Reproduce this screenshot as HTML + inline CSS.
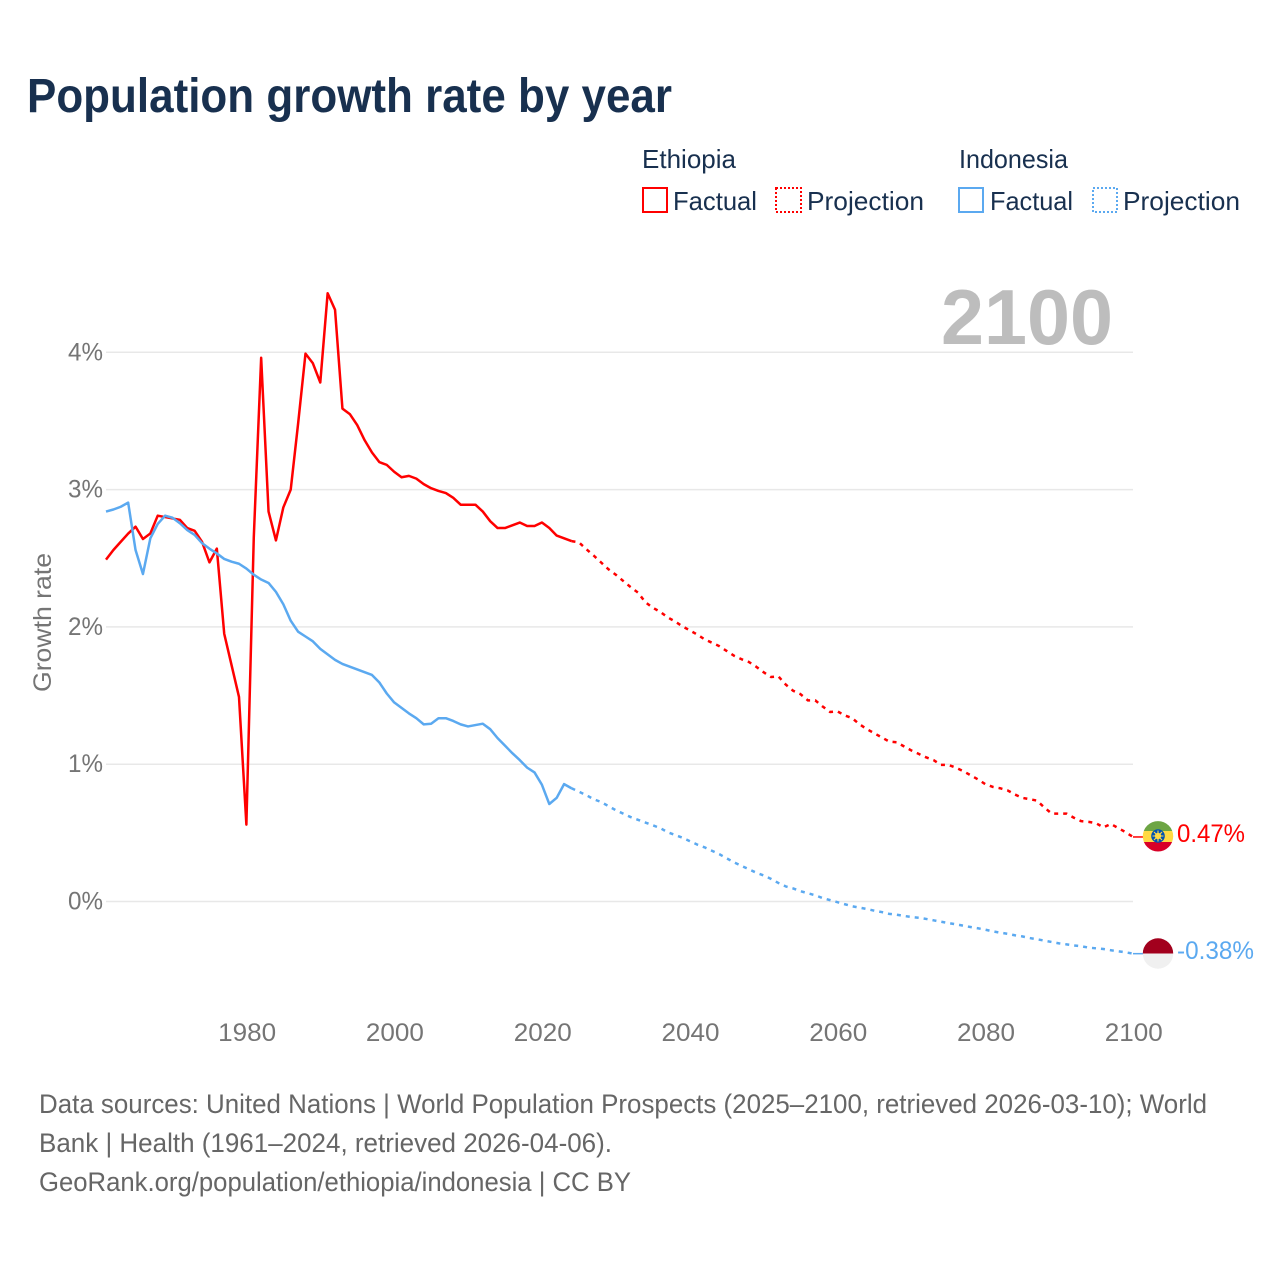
<!DOCTYPE html>
<html lang="en">
<head>
<meta charset="utf-8">
<title>Population growth rate by year</title>
<style>
html,body{margin:0;padding:0;background:#fff;}
svg{display:block;font-family:"Liberation Sans",sans-serif;}
</style>
</head>
<body>
<svg id="chart" xmlns="http://www.w3.org/2000/svg" width="1280" height="1280" viewBox="0 0 1280 1280">
  <rect width="1280" height="1280" fill="#fff"/>
  <text x="27" y="112" font-size="48" font-weight="700" fill="#18304f" textLength="645" lengthAdjust="spacingAndGlyphs">Population growth rate by year</text>

  <g font-size="26" fill="#18304f">
    <text x="642" y="168" textLength="94" lengthAdjust="spacingAndGlyphs">Ethiopia</text>
    <rect x="643" y="188" width="24" height="24" fill="none" stroke="#ff0000" stroke-width="2"/>
    <text x="673" y="210" textLength="84" lengthAdjust="spacingAndGlyphs">Factual</text>
    <rect x="776" y="188" width="25" height="24" fill="none" stroke="#ff0000" stroke-width="2" stroke-dasharray="2 2"/>
    <text x="807" y="210" textLength="117" lengthAdjust="spacingAndGlyphs">Projection</text>
    <text x="959" y="168" textLength="109" lengthAdjust="spacingAndGlyphs">Indonesia</text>
    <rect x="959" y="188" width="24" height="24" fill="none" stroke="#5ba9f0" stroke-width="2"/>
    <text x="990" y="210" textLength="83" lengthAdjust="spacingAndGlyphs">Factual</text>
    <rect x="1093" y="188" width="24" height="24" fill="none" stroke="#5ba9f0" stroke-width="2" stroke-dasharray="2 2"/>
    <text x="1123" y="210" textLength="117" lengthAdjust="spacingAndGlyphs">Projection</text>
  </g>

  <g id="grid"></g>
  <g id="yticks" font-size="25" fill="#757575"></g>
  <g id="xticks" font-size="25" fill="#757575"></g>
  <text transform="translate(51,692) rotate(-90)" font-size="25" fill="#757575" textLength="139" lengthAdjust="spacingAndGlyphs">Growth rate</text>
  <text x="941" y="344" font-size="78" font-weight="700" fill="#bdbdbd" textLength="172" lengthAdjust="spacingAndGlyphs">2100</text>

  <g id="series"></g>

  <g id="flag-ethiopia">
    <clipPath id="clip-eth"><circle cx="1158" cy="836.3" r="15.2"/></clipPath>
    <g clip-path="url(#clip-eth)">
      <rect x="1142" y="820" width="32" height="11" fill="#6da544"/>
      <rect x="1142" y="831" width="32" height="11" fill="#ffda44"/>
      <rect x="1142" y="842" width="32" height="11" fill="#d80027"/>
    </g>
    <circle cx="1158" cy="836" r="6.8" fill="#0052b4"/>
    <circle cx="1158" cy="836" r="3.2" fill="#ffda44"/>
    <path d="M1158 830.5V841.5M1152.5 836H1163.5M1154 832L1162 840M1162 832L1154 840" stroke="#ffda44" stroke-width="1.1"/>
  </g>
  <g id="flag-indonesia">
    <clipPath id="clip-idn"><circle cx="1158" cy="953.5" r="15.2"/></clipPath>
    <g clip-path="url(#clip-idn)">
      <rect x="1142" y="938" width="32" height="15.5" fill="#a2001d"/>
      <rect x="1142" y="953.5" width="32" height="16" fill="#f0f0f0"/>
    </g>
  </g>
  <text id="label-ethiopia" x="1177" y="842" font-size="25" fill="#ff0000" textLength="68" lengthAdjust="spacingAndGlyphs"></text>
  <text id="label-indonesia" x="1177" y="959" font-size="25" fill="#5ba9f0" textLength="77" lengthAdjust="spacingAndGlyphs"></text>

  <g font-size="27" fill="#666">
    <text x="39" y="1113" textLength="1168" lengthAdjust="spacingAndGlyphs">Data sources: United Nations | World Population Prospects (2025–2100, retrieved 2026-03-10); World</text>
    <text x="39" y="1152" textLength="573" lengthAdjust="spacingAndGlyphs">Bank | Health (1961–2024, retrieved 2026-04-06).</text>
    <text x="39" y="1191" textLength="592" lengthAdjust="spacingAndGlyphs">GeoRank.org/population/ethiopia/indonesia | CC BY</text>
  </g>
</svg>

<script>
const factualStartYear = 1961;
const projectionStartYear = 2025;
const xTickYears = [1980, 2000, 2020, 2040, 2060, 2080, 2100];
const yTickValues = [0, 1, 2, 3, 4];
const ethiopiaFactual = [
  2.49,2.56,2.62,2.68,2.73,2.64,2.68,2.81,2.80,2.79,
  2.78,2.72,2.70,2.62,2.47,2.57,1.95,1.72,1.49,0.56,
  2.65,3.96,2.84,2.63,2.87,3.00,3.48,3.99,3.92,3.78,
  4.43,4.31,3.59,3.55,3.47,3.36,3.27,3.20,3.18,3.13,
  3.09,3.10,3.08,3.04,3.01,2.99,2.975,2.94,2.89,2.89,
  2.89,2.84,2.77,2.72,2.72,2.74,2.76,2.735,2.735,2.76,
  2.72,2.665,2.645,2.625
];
const ethiopiaProjection = [
  2.616,2.567,2.52,2.47,2.42,2.38,2.335,2.29,2.25,2.18,
  2.14,2.11,2.07,2.04,2.005,1.975,1.945,1.91,1.885,1.86,
  1.825,1.79,1.765,1.745,1.71,1.67,1.635,1.64,1.58,1.535,
  1.51,1.465,1.465,1.42,1.38,1.385,1.355,1.335,1.29,1.255,
  1.225,1.195,1.165,1.16,1.13,1.10,1.075,1.05,1.03,0.995,
  0.995,0.975,0.95,0.92,0.89,0.855,0.835,0.825,0.81,0.78,
  0.755,0.745,0.735,0.685,0.64,0.64,0.64,0.61,0.585,0.58,
  0.57,0.54,0.565,0.535,0.505,0.47
];
const indonesiaFactual = [
  2.84,2.855,2.875,2.905,2.56,2.385,2.645,2.75,2.81,2.795,
  2.755,2.705,2.67,2.61,2.57,2.535,2.495,2.475,2.46,2.425,
  2.38,2.345,2.32,2.255,2.165,2.045,1.965,1.93,1.895,1.84,
  1.80,1.76,1.73,1.71,1.69,1.67,1.65,1.595,1.515,1.45,
  1.41,1.37,1.335,1.29,1.295,1.335,1.335,1.315,1.29,1.275,
  1.285,1.295,1.255,1.19,1.135,1.08,1.03,0.975,0.94,0.85,
  0.71,0.755,0.855,0.825
];
const indonesiaProjection = [
  0.80,0.775,0.745,0.725,0.695,0.665,0.64,0.615,0.595,0.575,
  0.555,0.535,0.505,0.485,0.465,0.44,0.415,0.395,0.37,0.345,
  0.315,0.285,0.26,0.235,0.21,0.19,0.165,0.135,0.11,0.095,
  0.075,0.06,0.045,0.025,0.01,-0.005,-0.02,-0.035,-0.045,-0.055,
  -0.067,-0.077,-0.09,-0.096,-0.105,-0.113,-0.118,-0.127,-0.137,-0.147,
  -0.157,-0.166,-0.176,-0.186,-0.195,-0.205,-0.217,-0.227,-0.235,-0.246,
  -0.254,-0.266,-0.275,-0.285,-0.295,-0.305,-0.312,-0.32,-0.326,-0.336,
  -0.341,-0.346,-0.355,-0.363,-0.37,-0.38
];
const ethiopiaEndLabel = "0.47%";
const indonesiaEndLabel = "-0.38%";

const NS = "http://www.w3.org/2000/svg";
const plotLeft = 106, plotRight = 1133, yearMin = 1961, yearMax = 2100;
const zeroY = 901.5, pxPerPercent = 137.3;
const RED = "#ff0000", BLUE = "#5ba9f0";

function xScale(year) {
  return plotLeft + (year - yearMin) * (plotRight - plotLeft) / (yearMax - yearMin);
}
function yScale(value) {
  return zeroY - value * pxPerPercent;
}
function svgEl(tag, attrs) {
  const el = document.createElementNS(NS, tag);
  for (const k in attrs) el.setAttribute(k, attrs[k]);
  return el;
}
function pointsFor(startYear, values) {
  return values.map(function (v, i) {
    return xScale(startYear + i).toFixed(2) + "," + yScale(v).toFixed(2);
  });
}

const grid = document.getElementById("grid");
const yticks = document.getElementById("yticks");
yTickValues.forEach(function (v) {
  const line = svgEl("line", {x1: plotLeft, x2: plotRight, y1: yScale(v), y2: yScale(v), stroke: "#e8e8e8", "stroke-width": 1.5});
  
  
  grid.appendChild(line);
  const t = svgEl("text", {x: 103, y: yScale(v) + 8, "text-anchor": "end", textLength: 35, lengthAdjust: "spacingAndGlyphs"});
  
  
  t.textContent = v + "%";
  yticks.appendChild(t);
});

const xticks = document.getElementById("xticks");
xTickYears.forEach(function (yr) {
  const t = svgEl("text", {x: xScale(yr) + 0.8, y: 1041, "text-anchor": "middle", textLength: 58, lengthAdjust: "spacingAndGlyphs"});
  
  
  t.textContent = yr;
  xticks.appendChild(t);
});

const seriesGroup = document.getElementById("series");
function drawLine(pts, color, dashed) {
  const attrs = {points: pts.join(" "), fill: "none", stroke: color, "stroke-width": 2.5, "stroke-linejoin": "round"};
  if (dashed) attrs["stroke-dasharray"] = "4 5";
  const line = svgEl("polyline", attrs);
  seriesGroup.appendChild(line);
  return line;
}
function connector(endValue, color) {
  const yEnd = yScale(endValue);
  const c = svgEl("line", {x1: plotRight, x2: 1143, y1: yEnd, y2: yEnd, stroke: color, "stroke-width": 1.5});
  seriesGroup.appendChild(c);
  return c;
}

const ethF = pointsFor(factualStartYear, ethiopiaFactual);
const ethP = pointsFor(projectionStartYear, ethiopiaProjection);
const idnF = pointsFor(factualStartYear, indonesiaFactual);
const idnP = pointsFor(projectionStartYear, indonesiaProjection);

const ethFLine = drawLine(ethF, RED, false);


const ethPLine = drawLine([ethF[ethF.length - 1]].concat(ethP), RED, true);


const idnFLine = drawLine(idnF, BLUE, false);


const idnPLine = drawLine([idnF[idnF.length - 1]].concat(idnP), BLUE, true);



const ethC = connector(ethiopiaProjection[ethiopiaProjection.length - 1], RED);


const idnC = connector(indonesiaProjection[indonesiaProjection.length - 1], BLUE);



document.getElementById("label-ethiopia").textContent = ethiopiaEndLabel;
document.getElementById("label-indonesia").textContent = indonesiaEndLabel;
</script>
</body>
</html>
